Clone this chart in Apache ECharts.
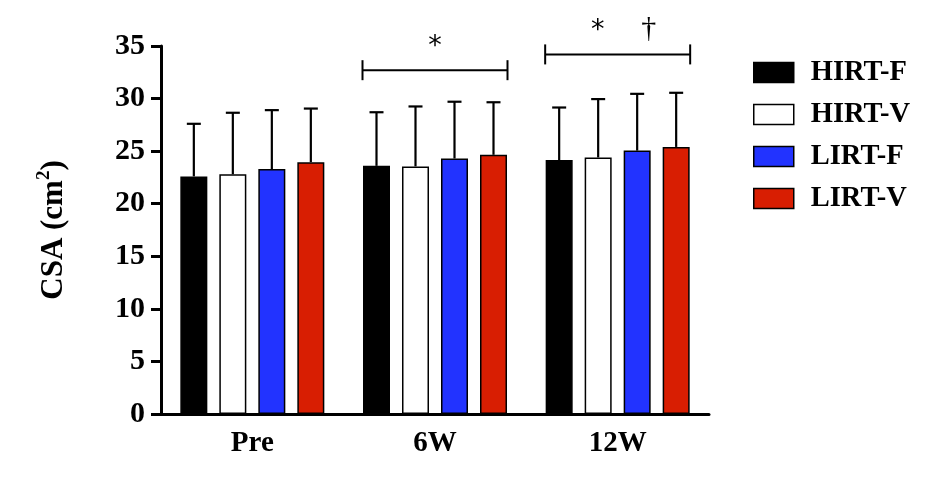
<!DOCTYPE html>
<html>
<head>
<meta charset="utf-8">
<script src="https://cdn.jsdelivr.net/npm/echarts@6/dist/echarts.min.js"></script>
<style>
  html, body { margin: 0; padding: 0; background: #fff; }
  #main { width: 945px; height: 496px; }
</style>
</head>
<body>
<div id="main"></div>
<script>
// 数据
var categories = ['Pre', '6W', '12W'];
var groupNames = ['HIRT-F', 'HIRT-V', 'LIRT-F', 'LIRT-V'];
var hirtF = [22.6, 23.6, 24.15];
var hirtV = [22.8, 23.55, 24.4];
var lirtF = [23.3, 24.3, 25.05];
var lirtV = [23.95, 24.65, 25.4];
var hirtF_sd = [5.0, 5.1, 5.0];
var hirtV_sd = [5.85, 5.7, 5.55];
var lirtF_sd = [5.6, 5.4, 5.4];
var lirtV_sd = [5.1, 5.0, 5.15];
// 显著性标记: [类别, 高度, 标记]
var sigIndex = [1, 2];
var sigLevel = [32.7, 34.2];
var sigMarks = [['*'], ['*', '†']];

(function () {
    var myChart = echarts.init(document.getElementById('main'));

    var font = 'Liberation Serif';
    var colors = ['#000000', '#ffffff', '#2233ff', '#d81e02'];
    var means = [hirtF, hirtV, lirtF, lirtV];
    var sds = [hirtF_sd, hirtV_sd, lirtF_sd, lirtV_sd];
    var barW = 27, barGapPx = 12;

    // 柱子
    var series = groupNames.map(function (name, i) {
        return {
            name: name,
            type: 'bar',
            barWidth: barW,
            barGap: (barGapPx / barW * 100) + '%',
            itemStyle: {
                color: colors[i],
                borderColor: '#000',
                borderWidth: 1.5
            },
            z: 2,
            data: means[i]
        };
    });

    // 误差线
    var errData = [];
    means.forEach(function (arr, s) {
        arr.forEach(function (v, c) {
            errData.push([c, v, v + sds[s][c], s]);
        });
    });
    series.push({
        type: 'custom',
        z: 3,
        silent: true,
        data: errData,
        renderItem: function (params, api) {
            var c = api.value(0), s = api.value(3);
            var off = (s - 1.5) * (barW + barGapPx);
            var p0 = api.coord([c, api.value(1)]);
            var p1 = api.coord([c, api.value(2)]);
            var x = p0[0] + off;
            var st = { stroke: '#000', lineWidth: 2.2 };
            return {
                type: 'group',
                children: [
                    { type: 'line', shape: { x1: x, y1: p0[1], x2: x, y2: p1[1] }, style: st },
                    { type: 'line', shape: { x1: x - 7, y1: p1[1], x2: x + 7, y2: p1[1] }, style: st }
                ]
            };
        }
    });

    // 显著性括号
    var sigData = sigIndex.map(function (c, i) { return [c, sigLevel[i], i]; });
    series.push({
        type: 'custom',
        z: 3,
        silent: true,
        data: sigData,
        renderItem: function (params, api) {
            var c = api.value(0), k = api.value(2);
            var p = api.coord([c, api.value(1)]);
            var half = 2 * (barW + barGapPx) - barGapPx / 2 + 0.5;
            var st = { stroke: '#000', lineWidth: 2 };
            var kids = [
                { type: 'line', shape: { x1: p[0] - half, y1: p[1], x2: p[0] + half, y2: p[1] }, style: st },
                { type: 'line', shape: { x1: p[0] - half, y1: p[1] - 10, x2: p[0] - half, y2: p[1] + 10 }, style: st },
                { type: 'line', shape: { x1: p[0] + half, y1: p[1] - 10, x2: p[0] + half, y2: p[1] + 10 }, style: st }
            ];
            var marks = sigMarks[k];
            marks.forEach(function (m, j) {
                var tx = marks.length === 1 ? p[0] : p[0] - 20 + j * 51;
                var isStar = m === '*';
                kids.push({
                    type: 'text',
                    style: {
                        x: tx, y: isStar ? p[1] - 10 : p[1] - 25, text: m,
                        fill: '#000',
                        font: isStar ? '27px "DejaVu Sans"' : '30px "' + font + '"',
                        textAlign: 'center', textVerticalAlign: isStar ? 'bottom' : 'middle'
                    }
                });
            });
            return { type: 'group', children: kids };
        }
    });

    var option = {
        animation: false,
        grid: {
            left: 161,
            right: 236,
            top: 46,
            bottom: 82
        },
        legend: {
            orient: 'vertical',
            left: 748,
            top: 53,
            itemWidth: 40,
            itemHeight: 20,
            itemGap: 13,
            icon: 'rect',
            data: groupNames,
            itemStyle: { borderColor: '#000', borderWidth: 1.5 },
            textStyle: {
                color: '#000',
                fontFamily: font,
                fontWeight: 'bold',
                fontSize: 28.5,
                padding: [0, 0, 0, 12]
            }
        },
        xAxis: {
            type: 'category',
            data: categories,
            axisLine: { lineStyle: { color: '#000', width: 3 } },
            axisTick: { alignWithLabel: true, length: 10, lineStyle: { color: '#000', width: 3 } },
            axisLabel: {
                color: '#000',
                fontFamily: font,
                fontWeight: 'bold',
                fontSize: 29,
                margin: 15
            }
        },
        yAxis: {
            type: 'value',
            min: 0,
            max: 35,
            interval: 5,
            name: '{a|CSA (cm}{s|2}{a|)}',
            nameLocation: 'middle',
            nameGap: 92,
            nameTextStyle: {
                color: '#000',
                fontFamily: font,
                fontWeight: 'bold',
                fontSize: 31,
                rich: {
                    a: { fontFamily: font, fontWeight: 'bold', fontSize: 31, lineHeight: 34, verticalAlign: 'bottom' },
                    s: { fontFamily: font, fontWeight: 'bold', fontSize: 19, lineHeight: 34, verticalAlign: 'top' }
                }
            },
            splitLine: { show: false },
            axisLine: { show: true, lineStyle: { color: '#000', width: 3 } },
            axisTick: { show: true, length: 10, lineStyle: { color: '#000', width: 3 } },
            axisLabel: {
                color: '#000',
                fontFamily: font,
                fontWeight: 'bold',
                fontSize: 30,
                margin: 16
            }
        },
        series: series
    };

    myChart.setOption(option);
})();
</script>
</body>
</html>
